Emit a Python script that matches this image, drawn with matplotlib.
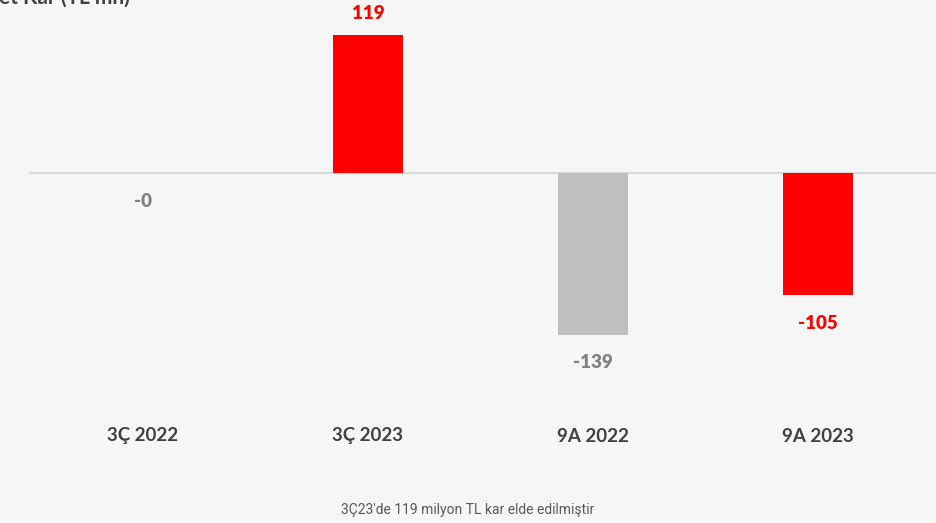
import matplotlib.pyplot as plt

categories = ["3Ç 2022", "3Ç 2023", "9A 2022", "9A 2023"]
values = [-0.3, 119, -139, -105]
labels = ["-0", "119", "-139", "-105"]
bar_colors = ["#bfbfbf", "#ff0000", "#bfbfbf", "#ff0000"]
label_colors = ["#808080", "#ff0000", "#808080", "#ff0000"]

plt.rcParams['font.family'] = ['Lato', 'DejaVu Sans']

fig = plt.figure(figsize=(9.36, 5.23), dpi=100)
fig.patch.set_facecolor("#f6f6f6")
ax = fig.add_axes([0, 0, 1, 1])
ax.set_facecolor("#f6f6f6")

px_per_unit = 1.162
ax.set_xlim(-143 / 225, (936 - 143) / 225)
ax.set_ylim(-(523 - 173) / px_per_unit, 173 / px_per_unit)
ax.axis("off")

x = range(len(categories))
ax.bar(x, values, width=0.31, color=bar_colors, zorder=3)
ax.axhline(0, xmin=30 / 936, xmax=1, color="#d9d9d9", lw=1.5, zorder=2)

# value labels
for i, v in enumerate(values):
    if v > 0:
        y = v + 21 / px_per_unit
    else:
        y = v - 28 / px_per_unit
    ax.text(i, y, labels[i], ha="center", va="center", fontsize=13.5,
            fontweight="heavy", color=label_colors[i])

# category labels
cat_y = -(436 - 173) / px_per_unit
for i, c in enumerate(categories):
    ax.text(i, cat_y, c, ha="center", va="center", fontsize=13.5,
            fontweight="bold", color="#404040")

# title, cut off at the top-left corner as in the source
fig.text(130 / 936, 1.005, "Net Kar (TL mn)", ha="right", va="center",
         fontsize=15, fontweight="bold", color="#404040")

fig.text(468 / 936, 1 - 510 / 523, "3Ç23'de 119 milyon TL kar elde edilmiştir",
         ha="center", va="center", fontsize=10, color="#595959",
         family=["Roboto", "DejaVu Sans"])

fig.savefig("out.png", dpi=100, facecolor=fig.get_facecolor())
